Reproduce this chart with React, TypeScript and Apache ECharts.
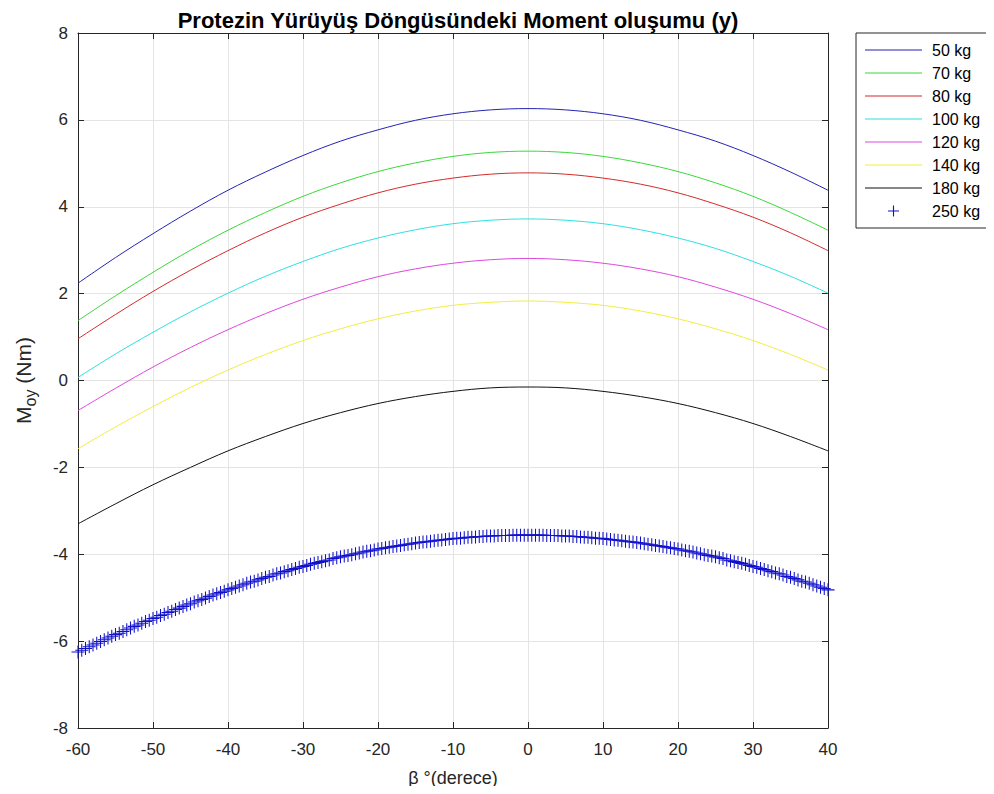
import React, { useEffect, useRef } from "react";
import * as echarts from "echarts";

// β (degrees) sampling used for the continuous curves
const betaDeg = [-60, -55, -50, -45, -40, -35, -30, -25, -20, -15, -10, -5, 0, 5, 10, 15, 20, 25, 30, 35, 40];

const m50 = [2.24, 2.83, 3.38, 3.90, 4.38, 4.80, 5.18, 5.51, 5.77, 5.99, 6.14, 6.23, 6.26, 6.23, 6.14, 5.99, 5.77, 5.51, 5.18, 4.80, 4.38];
const m70 = [1.38, 1.95, 2.49, 3.00, 3.46, 3.87, 4.24, 4.55, 4.81, 5.01, 5.16, 5.25, 5.28, 5.25, 5.16, 5.01, 4.81, 4.55, 4.24, 3.87, 3.46];
const m80 = [0.96, 1.52, 2.05, 2.54, 2.99, 3.40, 3.76, 4.06, 4.32, 4.52, 4.66, 4.75, 4.78, 4.75, 4.66, 4.52, 4.32, 4.06, 3.76, 3.40, 2.99];
const m100 = [0.07, 0.61, 1.11, 1.58, 2.01, 2.40, 2.74, 3.04, 3.28, 3.47, 3.61, 3.69, 3.72, 3.69, 3.61, 3.47, 3.28, 3.04, 2.74, 2.40, 2.01];
const m120 = [-0.69, -0.18, 0.31, 0.76, 1.17, 1.54, 1.87, 2.15, 2.39, 2.57, 2.70, 2.78, 2.81, 2.78, 2.70, 2.57, 2.39, 2.15, 1.87, 1.54, 1.17];
const m140 = [-1.57, -1.07, -0.60, -0.16, 0.24, 0.60, 0.92, 1.19, 1.42, 1.60, 1.73, 1.80, 1.83, 1.80, 1.73, 1.60, 1.42, 1.19, 0.92, 0.60, 0.24];
const m180 = [-3.30, -2.84, -2.40, -2.00, -1.62, -1.29, -0.99, -0.74, -0.53, -0.37, -0.25, -0.17, -0.15, -0.17, -0.25, -0.37, -0.53, -0.74, -0.99, -1.29, -1.62];

// 250 kg: marker series, one marker every 0.5° from -60° to 40°
const fineStart = -60;
const fineStep = 0.5;
const m250 = [
  -6.25, -6.21, -6.17, -6.13, -6.09, -6.05, -6.01, -5.97, -5.93, -5.89,
  -5.85, -5.82, -5.78, -5.74, -5.70, -5.66, -5.63, -5.59, -5.55, -5.52,
  -5.48, -5.45, -5.41, -5.38, -5.34, -5.31, -5.27, -5.24, -5.20, -5.17,
  -5.14, -5.10, -5.07, -5.04, -5.01, -4.97, -4.94, -4.91, -4.88, -4.85,
  -4.82, -4.79, -4.76, -4.73, -4.70, -4.67, -4.64, -4.62, -4.59, -4.56,
  -4.53, -4.51, -4.48, -4.45, -4.43, -4.40, -4.38, -4.35, -4.33, -4.30,
  -4.28, -4.26, -4.23, -4.21, -4.19, -4.17, -4.15, -4.13, -4.10, -4.08,
  -4.06, -4.04, -4.03, -4.01, -3.99, -3.97, -3.95, -3.93, -3.92, -3.90,
  -3.88, -3.87, -3.85, -3.84, -3.82, -3.81, -3.80, -3.78, -3.77, -3.76,
  -3.74, -3.73, -3.72, -3.71, -3.70, -3.69, -3.68, -3.67, -3.66, -3.65,
  -3.64, -3.63, -3.63, -3.62, -3.61, -3.61, -3.60, -3.59, -3.59, -3.58,
  -3.58, -3.58, -3.57, -3.57, -3.57, -3.57, -3.56, -3.56, -3.56, -3.56,
  -3.56,
  -3.56, -3.56, -3.56, -3.56, -3.57, -3.57, -3.57, -3.57, -3.58, -3.58,
  -3.58, -3.59, -3.59, -3.60, -3.61, -3.61, -3.62, -3.63, -3.63, -3.64,
  -3.65, -3.66, -3.67, -3.68, -3.69, -3.70, -3.71, -3.72, -3.73, -3.74,
  -3.76, -3.77, -3.78, -3.80, -3.81, -3.82, -3.84, -3.85, -3.87, -3.88,
  -3.90, -3.92, -3.93, -3.95, -3.97, -3.99, -4.01, -4.03, -4.04, -4.06,
  -4.08, -4.10, -4.13, -4.15, -4.17, -4.19, -4.21, -4.23, -4.26, -4.28,
  -4.30, -4.33, -4.35, -4.38, -4.40, -4.43, -4.45, -4.48, -4.51, -4.53,
  -4.56, -4.59, -4.62, -4.64, -4.67, -4.70, -4.73, -4.76, -4.79, -4.82,
];

const lineNames = ["50 kg", "70 kg", "80 kg", "100 kg", "120 kg", "140 kg", "180 kg"];
const lineValues = [m50, m70, m80, m100, m120, m140, m180];
const lineColors = ["#2323b4", "#3ad83a", "#d42a2a", "#2ee0e0", "#de48de", "#f2ee40", "#111111"];
const markerName = "250 kg";
const markerColor = "#1010cc";

const xTicks = { min: -60, max: 40, interval: 10 };
const yTicks = { min: -8, max: 8, interval: 2 };

const FONT = "'Liberation Sans', Arial, Helvetica, sans-serif";
const AXIS_COLOR = "#262626";

const PLUS_SYMBOL = "path://M4.6,0 H5.4 V4.6 H10 V5.4 H5.4 V10 H4.6 V5.4 H0 V4.6 H4.6 Z";
const PLUS_LEGEND =
  "path://M0,0 L0.01,0 L0,0.01 Z M57,14 L56.99,14 L57,13.99 Z M27.95,1.5 H29.05 V6.45 H34 V7.55 H29.05 V12.5 H27.95 V7.55 H23 V6.45 H27.95 Z";
const LINE_LEGEND = "path://M0,0 L0.01,0 L0,0.01 Z M57,14 L56.99,14 L57,13.99 Z M0,6.5 H57 V7.5 H0 Z";

export default function App() {
  const ref = useRef<HTMLDivElement>(null);

  useEffect(() => {
    if (!ref.current) return;
    const chart = echarts.init(ref.current, undefined, { renderer: "svg" });

    const lineSeries = lineNames.map((name, i) => ({
      name,
      type: "line",
      xAxisIndex: 0,
      yAxisIndex: 0,
      data: betaDeg.map((b, j) => [b, lineValues[i][j]]),
      smooth: 0.35,
      symbol: "none",
      showSymbol: false,
      legendIcon: LINE_LEGEND,
      lineStyle: { color: lineColors[i], width: 1 },
      itemStyle: { color: lineColors[i] },
      z: 3,
    }));

    const markerSeries = {
      name: markerName,
      type: "scatter",
      xAxisIndex: 0,
      yAxisIndex: 0,
      data: m250.map((v, i) => [fineStart + i * fineStep, v]),
      symbol: PLUS_SYMBOL,
      symbolSize: 13,
      legendIcon: PLUS_LEGEND,
      itemStyle: { color: markerColor, opacity: 1 },
      clip: false,
      z: 4,
    };

    const axisCommon = {
      type: "value",
      axisLine: { show: true, onZero: false, lineStyle: { color: AXIS_COLOR, width: 1 } },
      axisTick: { show: true, inside: true, length: 6, lineStyle: { color: AXIS_COLOR, width: 1 } },
    };

    chart.setOption({
      animation: false,
      backgroundColor: "#ffffff",
      title: {
        text: "Protezin Yürüyüş Döngüsündeki Moment oluşumu (y)",
        left: 453,
        textAlign: "center",
        top: 4,
        textStyle: { fontFamily: FONT, fontSize: 22, fontWeight: "bold", color: "#000" },
      },
      legend: {
        orient: "vertical",
        left: 856,
        top: 33,
        itemWidth: 57,
        itemHeight: 14,
        itemGap: 7,
        padding: [9, 10, 9, 9],
        borderColor: AXIS_COLOR,
        borderWidth: 1,
        backgroundColor: "#ffffff",
        textStyle: { fontFamily: FONT, fontSize: 16, lineHeight: 16, color: "#000", padding: [0, 0, 0, 5] },
        data: [
          ...lineNames.map((n) => ({ name: n, icon: LINE_LEGEND })),
          { name: markerName, icon: PLUS_LEGEND, itemStyle: { color: markerColor } },
        ],
      },
      grid: { left: 78, right: 166, top: 33, bottom: 66 },
      xAxis: [
        {
          ...axisCommon,
          position: "bottom",
          min: xTicks.min,
          max: xTicks.max,
          interval: xTicks.interval,
          axisLabel: { show: true, margin: 13, fontFamily: FONT, fontSize: 17, color: AXIS_COLOR },
          splitLine: { show: true, lineStyle: { color: "#e4e4e4", width: 1 } },
          name: "β °(derece)",
          nameLocation: "middle",
          nameGap: 41,
          nameTextStyle: { fontFamily: FONT, fontSize: 18, color: AXIS_COLOR },
        },
        {
          ...axisCommon,
          position: "top",
          min: xTicks.min,
          max: xTicks.max,
          interval: xTicks.interval,
          axisLabel: { show: false },
          splitLine: { show: false },
        },
      ],
      yAxis: [
        {
          ...axisCommon,
          position: "left",
          min: yTicks.min,
          max: yTicks.max,
          interval: yTicks.interval,
          axisLabel: { show: true, margin: 10, fontFamily: FONT, fontSize: 17, color: AXIS_COLOR },
          splitLine: { show: true, lineStyle: { color: "#e4e4e4", width: 1 } },
          name: "{m|M}{s|oy}{m| (Nm)}",
          nameLocation: "middle",
          nameGap: 40,
          nameRotate: 90,
          nameTextStyle: {
            fontFamily: FONT,
            color: AXIS_COLOR,
            rich: {
              m: { fontFamily: FONT, fontSize: 21, color: AXIS_COLOR, lineHeight: 30, verticalAlign: "middle" },
              s: { fontFamily: FONT, fontSize: 16, color: AXIS_COLOR, lineHeight: 30, verticalAlign: "bottom" },
            },
          },
        },
        {
          ...axisCommon,
          position: "right",
          min: yTicks.min,
          max: yTicks.max,
          interval: yTicks.interval,
          axisLabel: { show: false },
          splitLine: { show: false },
        },
      ],
      series: [...lineSeries, markerSeries],
    });

    return () => chart.dispose();
  }, []);

  return <div ref={ref} style={{ width: 994, height: 794, margin: -8 }} />;
}
